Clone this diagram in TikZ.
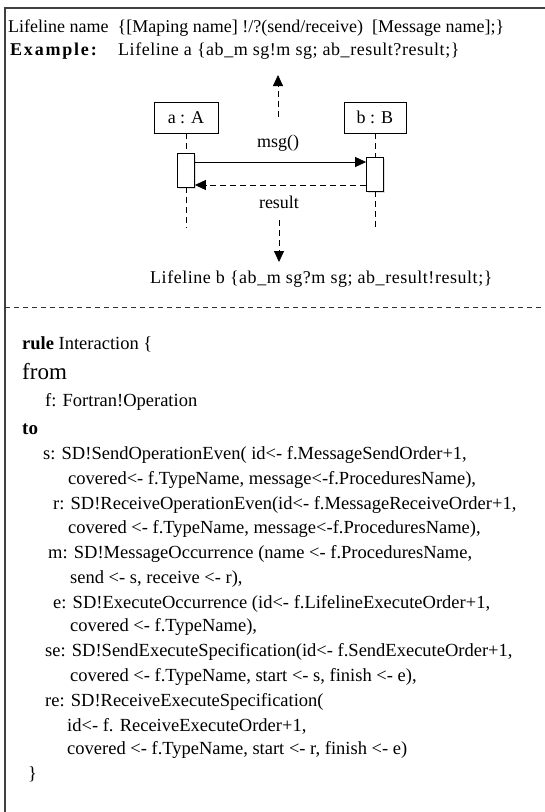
\documentclass[tikz,border=0pt]{standalone}
\usepackage{fontspec}
\setmainfont{Liberation Serif}
\usepackage{tikz}
\usetikzlibrary{positioning, arrows.meta, shadows}

\begin{document}
\begin{tikzpicture}[
    x=1pt, y=-1pt,
    obj_box/.style={rectangle, draw=black, fill=white, minimum width=64pt, minimum height=31pt, inner sep=0pt, thick, font=\fontsize{18}{20}\selectfont},
    act_box/.style={rectangle, draw=black, fill=white, minimum width=17pt, minimum height=34pt, inner sep=0pt, thick, drop shadow={opacity=0.25, shadow xshift=1.5pt, shadow yshift=-1.5pt}},
    life_style/.style={draw=black, thick, dash pattern=on 6pt off 4pt},
    msg_style/.style={draw=black, thick, -{Triangle[length=11pt, width=10pt]}},
    reply_style/.style={msg_style, dash pattern=on 6pt off 4pt},
    frame_style/.style={draw=black!75, line width=1.5pt},
    sep_style/.style={draw=black!80, thick, dash pattern=on 5pt off 4pt},
    txt/.style={anchor=base west, inner sep=0pt, font=\fontsize{18}{20}\selectfont},
    code/.style={anchor=base west, inner sep=0pt, font=\fontsize{18.5}{20}\selectfont}
]

\useasboundingbox (0,0) rectangle (545,812);

% Frame and separator
\draw[frame_style] (545,8) -- (5,8) -- (5,812);
\draw[sep_style] (5,307) -- (545,307);

% Header lines
\node[txt] (head) at (8,32) {Lifeline name\ \ \{[Maping name] !/?(send/receive)\ \ [Message name];\}};
\node[txt, font=\fontsize{18}{20}\selectfont\bfseries\addfontfeatures{LetterSpace=10}] (exlabel) at (10,55) {Example:};
\node[txt, font=\fontsize{18}{20}\selectfont\addfontfeatures{LetterSpace=3}] (lifea) at (118,55) {Lifeline a \{ab\_m sg!m sg; ab\_result?result;\}};

% Objects and activations
\node[obj_box] (objA) at (186,117.5) {a : A};
\node[obj_box, minimum width=62pt] (objB) at (375,117.5) {b : B};
\node[act_box] (actA) at (186,170) {};
\node[act_box] (actB) at (375,174) {};
\coordinate (endA) at (186,228);
\coordinate (endB) at (375,228);

% Lifelines
\draw[life_style] (objA) -- (actA);
\draw[life_style] (actA) -- (endA);
\draw[life_style] (objB) -- (actB);
\draw[life_style] (actB) -- (endB);

% Messages
\draw[msg_style] ([yshift=8pt]actA.east) -- ([yshift=12pt]actB.west);
\draw[reply_style] ([yshift=-11pt]actB.west) -- ([yshift=-15pt]actA.east);
\node[txt, anchor=base] (msglbl) at (278,147) {msg()};
\node[txt, anchor=base] (reslbl) at (279,208) {result};

% Mapping arrows
\coordinate (upfrom) at (278,117);
\coordinate (upto) at (278,75);
\draw[reply_style] (upfrom) -- (upto);
\coordinate (downfrom) at (279,220);
\coordinate (downto) at (279,262);
\draw[reply_style] (downfrom) -- (downto);
\node[txt, font=\fontsize{18}{20}\selectfont\addfontfeatures{LetterSpace=3}] (lifeb) at (150,283) {Lifeline b \{ab\_m sg?m sg; ab\_result!result;\}};

% Rule text
\node[code] (c1) at (22,349) {\textbf{rule} Interaction \{};
\node[code, font=\fontsize{23}{25}\selectfont] (c2) at (22,379) {from};
\node[code] (c3) at (45,406) {f: Fortran!Operation};
\node[code, font=\fontsize{19}{20}\selectfont\bfseries] (c4) at (22,434) {to};
\node[code] (c5) at (43,459) {s: SD!SendOperationEven( id<- f.MessageSendOrder+1,};
\node[code] (c6) at (68,484) {covered<- f.TypeName, message<-f.ProceduresName),};
\node[code] (c7) at (53,509) {r: SD!ReceiveOperationEven(id<- f.MessageReceiveOrder+1,};
\node[code] (c8) at (68,533) {covered <- f.TypeName, message<-f.ProceduresName),};
\node[code] (c9) at (48,558) {m: SD!MessageOccurrence (name <- f.ProceduresName,};
\node[code] (c10) at (70,583) {send <- s, receive <- r),};
\node[code] (c11) at (53,608) {e: SD!ExecuteOccurrence (id<- f.LifelineExecuteOrder+1,};
\node[code] (c12) at (70,631) {covered <- f.TypeName),};
\node[code] (c13) at (45,656) {se: SD!SendExecuteSpecification(id<- f.SendExecuteOrder+1,};
\node[code] (c14) at (70,681) {covered <- f.TypeName, start <- s, finish <- e),};
\node[code] (c15) at (45,706) {re: SD!ReceiveExecuteSpecification(};
\node[code] (c16) at (67,731) {id<- f. ReceiveExecuteOrder+1,};
\node[code] (c17) at (67,754) {covered <- f.TypeName, start <- r, finish <- e)};
\node[code] (c18) at (28,779) {\}};

\end{tikzpicture}
\end{document}
